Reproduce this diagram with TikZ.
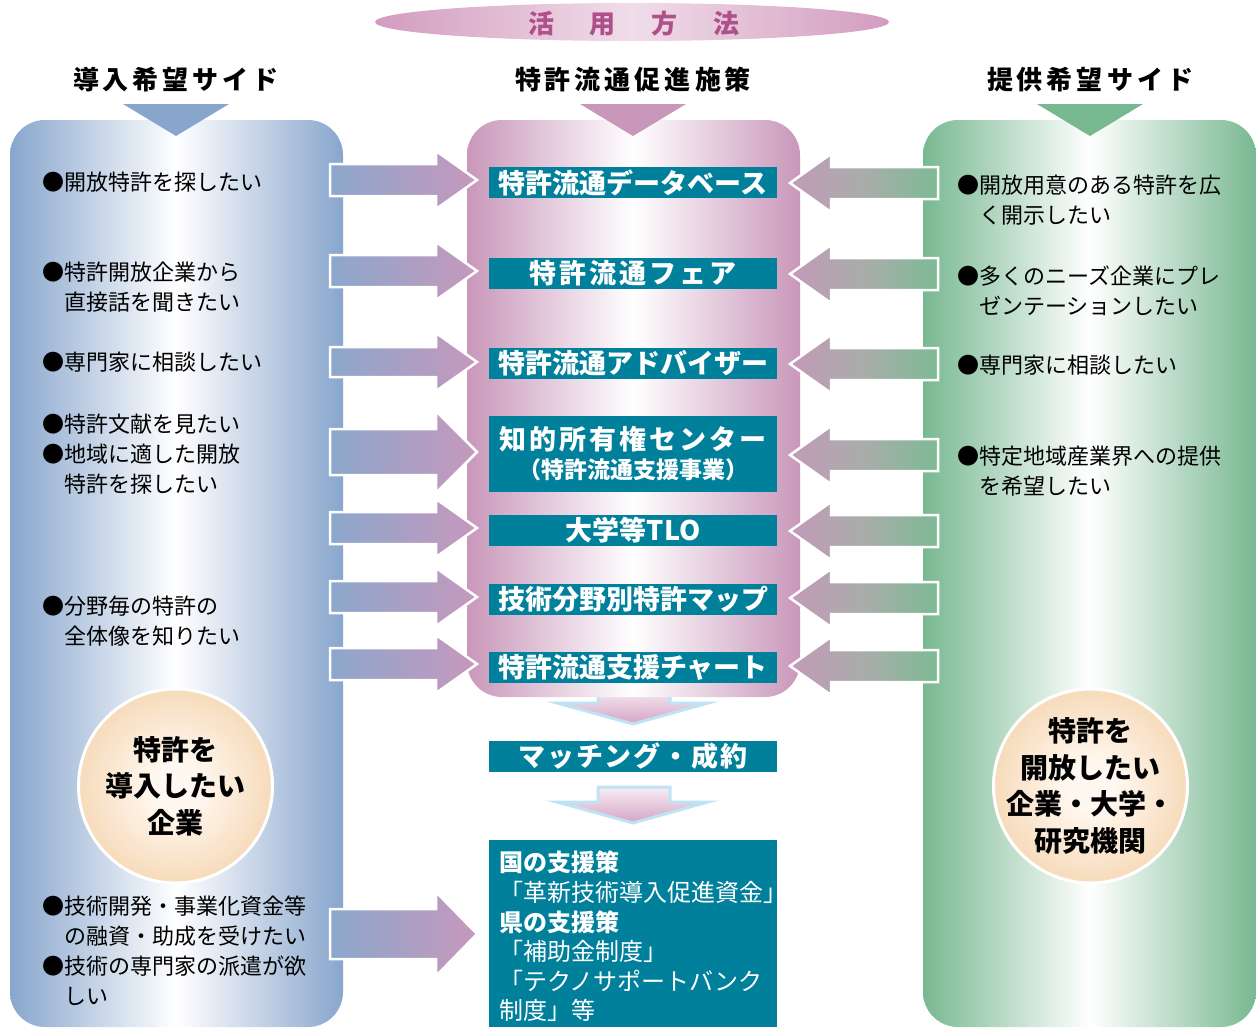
\documentclass[tikz,border=0pt]{standalone}
\usepackage{fontspec}
\setmainfont{Noto Sans CJK JP}
\usetikzlibrary{shapes.geometric}
\definecolor{teal1}{HTML}{00809B}
\definecolor{blueE}{HTML}{88A6CD}
\definecolor{pinkE}{HTML}{C997BA}
\definecolor{greenE}{HTML}{78B891}
\definecolor{orgO}{HTML}{EDBB80}
\definecolor{orgI}{HTML}{FFF8F0}
\definecolor{titleC}{HTML}{B0508A}
\definecolor{ellE}{HTML}{D39CC0}
\definecolor{ellM}{HTML}{F0DDE9}
\definecolor{arrLa}{HTML}{8CA7CC}
\definecolor{arrLb}{HTML}{C698BC}
\definecolor{arrRa}{HTML}{C39AB8}
\definecolor{arrRb}{HTML}{A9ADAA}
\definecolor{arrRc}{HTML}{7DBA94}
\definecolor{dnE}{HTML}{BEE3F4}
\definecolor{dnT}{HTML}{F7EDF3}
\definecolor{dnB}{HTML}{D5A3C5}
\pgfdeclareradialshading{orangeball}{\pgfpoint{0bp}{0bp}}{color(0bp)=(orgI); color(6bp)=(orgI); color(46bp)=(orgO); color(50bp)=(orgO)}
\makeatletter
\newcommand\spreadtxt[2]{\def\st@sep{\kern#1}\@tfor\st@c:=#2\do{\st@c\st@sep}\unkern}
\makeatother
\newcommand\rarr[3]{%
  \shade[left color=arrLa, right color=arrLb, draw=white, line width=2.5]
  (330,{#1-#2}) -- (436,{#1-#2}) -- (436,{#1-#3}) -- (477,#1) -- (436,{#1+#3}) -- (436,{#1+#2}) -- (330,{#1+#2}) -- cycle;}
\newcommand\larr[1]{%
  \shade[left color=arrRa, right color=arrRc, middle color=arrRb, draw=white, line width=2.5]
  (938,{#1-16}) -- (831,{#1-16}) -- (831,{#1-29}) -- (790,#1) -- (831,{#1+29}) -- (831,{#1+16}) -- (938,{#1+16}) -- cycle;}
\newcommand\darr[1]{%
  \shade[top color=dnT, bottom color=dnB, draw=dnE, line width=3, line join=miter]
  (598,#1) -- (670,#1) -- (670,{#1+15}) -- (708,{#1+15}) -- (633,{#1+36}) -- (557,{#1+15}) -- (598,{#1+15}) -- cycle;}
\begin{document}
\begin{tikzpicture}[x=1pt,y=-1pt,
  item/.style={anchor=west, inner sep=0, align=left, font=\fontsize{22}{30}\selectfont, text=black},
  header/.style={font=\bfseries\fontsize{26}{30}\selectfont, inner sep=0},
  tealbox/.style={fill=teal1, text=white, font=\bfseries\fontsize{27}{29}\selectfont, minimum width=288, minimum height=31, inner sep=0},
  ball/.style={circle, minimum size=194, shade, shading=orangeball, draw=white, line width=3, align=center, font=\bfseries\fontsize{28}{36.5}\selectfont, inner sep=-20}]
\useasboundingbox (0,0) rectangle (1256,1028);
% title
\shade[left color=ellE, right color=ellE, middle color=ellM] (632,22) ellipse [x radius=257, y radius=19];
\node[text=titleC, font=\bfseries\fontsize{26}{30}\selectfont, inner sep=0] (title) at (634,24) {\spreadtxt{36pt}{活用方法}};
% headers
\node[header] (hl) at (176,80) {\spreadtxt{4pt}{導入希望サイド}};
\node[header] (hm) at (633,80) {\spreadtxt{4pt}{特許流通促進施策}};
\node[header] (hr) at (1090,80) {\spreadtxt{4pt}{提供希望サイド}};
% down arrows (first behind the panel)
\darr{688}
\darr{787}
% panels
\shade[left color=blueE, right color=blueE, middle color=white, rounded corners=35] (10,120) rectangle (343,1027);
\shade[left color=pinkE, right color=pinkE, middle color=white, rounded corners=35] (467,120) rectangle (800,697);
\shade[left color=greenE, right color=greenE, middle color=white, rounded corners=35] (923,120) rectangle (1256,1027);
% triangles
\fill[blueE] (123,104) -- (229,104) -- (176,136) -- cycle;
\fill[pinkE] (580,104) -- (686,104) -- (633,136) -- cycle;
\fill[greenE] (1037,104) -- (1143,104) -- (1090,136) -- cycle;
% left arrows
\rarr{180}{16}{29}
\rarr{271}{16}{29}
\rarr{362}{15}{29}
\rarr{452}{23}{41}
\rarr{528}{16}{29}
\rarr{597}{16}{29}
\rarr{664}{16}{29}
\rarr{934}{25}{42}
% right arrows
\larr{183}
\larr{274}
\larr{364}
\larr{455}
\larr{531}
\larr{598}
\larr{666}
% teal boxes
\node[tealbox] (b1) at (633,182.5) {特許流通データベース};
\node[tealbox] (b2) at (633,273.5) {\spreadtxt{3pt}{特許流通フェア}};
\node[tealbox] (b3) at (633,363) {特許流通アドバイザー};
\node[tealbox, minimum height=76, align=center] (b4) at (633,454) {\spreadtxt{3pt}{知的所有権センター}\\{\fontsize{23}{29}\selectfont（特許流通支援事業）}};
\node[tealbox] (b5) at (633,530.5) {大学等TLO};
\node[tealbox] (b6) at (633,599) {技術分野別特許マップ};
\node[tealbox] (b7) at (633,667) {特許流通支援チャート};
\node[tealbox] (b8) at (633,756.5) {\spreadtxt{2pt}{マッチング・成約}};
\node[fill=teal1, minimum width=288, minimum height=187, inner sep=0] (b9) at (633,933.5) {};
\node[text=white, text width=268, inner xsep=10, inner ysep=0, align=left, font=\fontsize{24}{29.6}\selectfont] (b9t) at ([yshift=-3pt]b9.center)
  {\textbf{国の支援策}\\「革新技術導入促進資金」\\\textbf{県の支援策}\\「補助金制度」\\「テクノサポートバンク\\制度」等};
% circles
\node[ball] (cl) at (175.5,786) {特許を\\導入したい\\企業};
\node[ball] (cr) at (1090.5,786) {特許を\\開放したい\\企業・大学・\\研究機関};
% left items
\node[item] (l1) at (42,182) {●開放特許を探したい};
\node[item] (l2) at (42,287) {●特許開放企業から\\　直接話を聞きたい};
\node[item] (l3) at (42,362) {●専門家に相談したい};
\node[item] (l4) at (42,454) {●特許文献を見たい\\●地域に適した開放\\　特許を探したい};
\node[item] (l5) at (42,621) {●分野毎の特許の\\　全体像を知りたい};
\node[item] (l6) at (42,951) {●技術開発・事業化資金等\\　の融資・助成を受けたい\\●技術の専門家の派遣が欲\\　しい};
% right items
\node[item] (r1) at (957,200) {●開放用意のある特許を広\\　く開示したい};
\node[item] (r2) at (957,291) {●多くのニーズ企業にプレ\\　ゼンテーションしたい};
\node[item] (r3) at (957,365) {●専門家に相談したい};
\node[item] (r4) at (957,471) {●特定地域産業界への提供\\　を希望したい};
\end{tikzpicture}
\end{document}
